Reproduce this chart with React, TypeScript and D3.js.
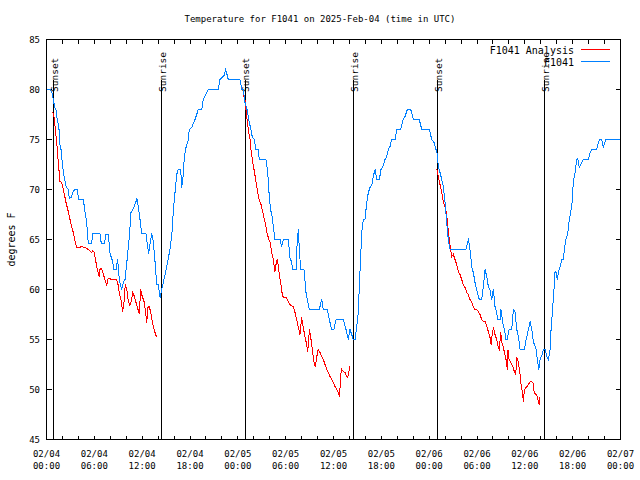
import React from 'react';
import * as d3 from 'd3';

// hours since 2025-02-04 00:00 UTC, temperature in degrees F
const observed: [number, number][] = [
  [0.0, 80], [0.44, 80], [0.65, 79.8], [0.78, 79.3], [0.85, 79], [1.03, 78.2], [1.19, 78], [1.28, 77.3],
  [1.44, 76.7], [1.57, 76], [1.69, 74.5], [1.82, 74], [1.94, 73], [2.03, 72.3], [2.2, 71.3], [2.45, 70.3],
  [2.73, 70], [2.86, 69.1], [3.11, 69.2], [3.29, 69.7], [3.54, 70], [3.86, 70], [4.04, 69], [4.62, 69],
  [4.79, 68], [5.04, 66.7], [5.24, 64.6], [5.67, 64.6], [5.8, 65.6], [6.71, 65.6], [6.87, 64.6], [7.25, 64.6],
  [7.46, 65.5], [7.75, 65.5], [7.97, 63.6], [8.3, 62.8], [8.47, 62], [8.72, 62], [8.93, 63], [9.06, 61.5],
  [9.26, 60.5], [9.43, 60], [9.63, 60.7], [9.85, 61], [10.14, 63.2], [10.39, 65.3], [10.6, 67.7], [10.89, 68.1],
  [11.19, 68.7], [11.35, 69.1], [11.57, 68], [11.73, 67], [11.94, 65.6], [12.48, 65.6], [12.64, 64.5], [12.82, 63.6],
  [12.98, 64.5], [13.2, 65.6], [13.4, 64.8], [13.61, 62.8], [13.82, 60.5], [14.02, 60.5], [14.24, 59.2], [14.45, 60],
  [14.74, 61], [15.08, 62.3], [15.49, 64], [15.78, 66], [15.91, 68], [16.12, 69.7], [16.33, 71.5], [16.53, 72],
  [16.83, 72], [16.96, 70.2], [17.16, 71.5], [17.29, 73.3], [17.5, 74.2], [17.79, 75], [17.91, 76], [18.21, 76.2],
  [18.63, 77], [19.04, 78], [19.47, 78], [19.67, 79], [20.3, 80], [21.55, 80], [21.76, 81], [22.27, 81.4],
  [22.48, 82], [22.8, 81], [24.27, 81], [24.49, 80], [24.69, 80], [24.9, 78.7], [25.19, 77.9], [25.44, 76.7],
  [25.65, 76], [25.82, 75.2], [26.07, 75], [26.28, 74], [26.57, 74], [26.69, 73], [27.53, 73], [27.75, 71.7],
  [27.91, 69.7], [28.04, 68.5], [28.16, 67.8], [28.29, 67.3], [28.45, 66.3], [28.66, 65], [29.29, 65], [29.5, 64.3],
  [29.7, 65], [30.33, 65], [30.54, 63.2], [30.76, 62.7], [30.88, 62], [31.3, 62], [31.46, 65], [31.59, 66],
  [31.71, 64], [31.89, 62], [32.3, 62], [32.55, 59.7], [32.72, 59], [32.97, 58], [34.22, 58], [34.52, 59],
  [34.72, 58], [35.22, 58], [35.47, 57], [35.78, 56], [36.06, 56], [36.32, 57], [37.23, 57], [37.57, 56],
  [37.86, 55], [38.07, 56], [38.28, 55.5], [38.48, 55], [38.7, 55], [38.91, 56.3], [39.11, 57.7], [39.24, 60.3],
  [39.41, 63.3], [39.54, 65.7], [39.74, 67], [39.95, 67], [40.17, 68.7], [40.37, 69.7], [40.58, 70.2], [40.79, 70.4],
  [40.99, 71.3], [41.21, 72], [41.42, 71], [41.75, 71], [41.96, 72], [42.17, 72.2], [42.46, 73], [42.68, 73.3],
  [42.88, 74], [43.09, 74.3], [43.3, 75], [43.72, 75], [43.93, 76], [44.43, 76], [44.68, 76.9], [44.97, 77.3],
  [45.26, 78], [45.69, 78], [46.01, 77], [46.76, 77], [47.07, 76], [48.02, 76], [48.32, 75], [48.61, 74.7],
  [48.86, 74], [49.02, 73.5], [49.15, 72.3], [49.36, 71.7], [49.58, 71], [49.78, 70.3], [49.99, 68.7], [50.2, 66.7],
  [50.4, 65], [50.62, 64], [51.46, 64], [51.87, 64], [52.62, 64], [52.84, 64.7], [52.91, 65.1], [53.04, 64.5],
  [53.22, 63.3], [53.34, 62.2], [53.54, 61.7], [53.75, 60.7], [53.96, 60], [54.17, 59.3], [54.29, 59], [54.59, 59],
  [54.79, 60.3], [55.01, 62], [55.22, 61.3], [55.42, 60.3], [55.63, 60], [55.84, 59], [56.05, 60], [56.26, 58.3],
  [56.47, 57.7], [56.6, 57], [56.89, 57], [57.01, 58], [57.23, 56.7], [57.51, 55.7], [57.64, 55], [57.8, 55],
  [58.02, 56], [58.36, 56], [58.56, 58], [58.78, 57.7], [58.99, 56], [59.19, 55.3], [59.4, 54], [59.94, 54],
  [60.16, 55], [60.45, 56], [60.66, 56.8], [60.87, 56], [61.07, 54.8], [61.41, 54], [61.57, 53], [61.75, 52],
  [61.91, 53], [62.13, 53.4], [62.33, 54], [62.54, 54], [62.75, 53.3], [62.95, 53], [63.17, 54], [63.29, 56],
  [63.45, 57.7], [63.58, 59.2], [63.7, 60.5], [63.79, 61.8], [63.92, 61.7], [64.08, 61], [64.21, 61.7], [64.42, 62.3],
  [64.63, 63], [64.83, 63], [65.04, 64.5], [65.17, 65.1], [65.38, 65.6], [65.58, 67], [65.76, 67.7], [65.92, 68.7],
  [66.08, 70.7], [66.3, 71.7], [66.51, 73], [66.63, 73.1], [66.83, 72.2], [67.14, 72.7], [67.34, 73], [67.96, 73],
  [68.18, 73.7], [68.39, 74], [69.02, 74], [69.22, 74.7], [69.43, 75], [69.65, 75], [69.85, 74.2], [70.15, 75],
  [72.0, 75],
];

const analysisNight1: [number, number][] = [
  [0.78, 77.8], [0.94, 77.3], [1.07, 76.3], [1.28, 74.7], [1.48, 72.7], [1.69, 70.8], [1.91, 70.7], [2.11, 70],
  [2.32, 69.2], [2.45, 68.7], [2.73, 67.8], [2.86, 67.3], [3.16, 66.3], [3.36, 65.7], [3.58, 64.8], [3.79, 64.2],
  [4.11, 64.2], [4.42, 64.3], [4.83, 64.2], [5.24, 64], [5.67, 63.7], [5.8, 63.9], [6.0, 63.7], [6.21, 62.7],
  [6.37, 62], [6.62, 61.3], [6.71, 62], [6.84, 62.1], [7.05, 61.8], [7.21, 61.3], [7.46, 60.7], [7.55, 60.4],
  [7.68, 61], [7.75, 61.1], [8.3, 61], [8.81, 61], [8.97, 60.5], [9.13, 59.7], [9.38, 58.8], [9.56, 57.8],
  [9.72, 58.7], [9.88, 60.5], [10.14, 59.7], [10.26, 58.8], [10.47, 58.4], [10.69, 59], [10.81, 59.7], [10.98, 59.4],
  [11.23, 58.7], [11.48, 58], [11.64, 57.6], [11.82, 60], [11.98, 59.4], [12.23, 58.8], [12.39, 58], [12.57, 56.7],
  [12.73, 58.2], [12.9, 58.3], [13.07, 57.7], [13.23, 57], [13.4, 56.3], [13.61, 55.7], [13.74, 55.3], [13.9, 55.5],
];

const analysisNight2: [number, number][] = [
  [24.69, 79.4], [24.9, 79], [25.11, 77.3], [25.31, 76], [25.53, 75], [25.65, 74], [25.87, 72.7], [26.03, 72],
  [26.24, 71], [26.44, 70], [26.66, 69], [26.91, 68.5], [27.12, 67.8], [27.28, 67.2], [27.5, 66.5], [27.62, 65.8],
  [27.82, 65.2], [28.04, 64.7], [28.25, 63.7], [28.45, 63], [28.66, 61.8], [28.79, 62.5], [28.95, 63], [29.08, 62.3],
  [29.2, 61.5], [29.38, 60.7], [29.54, 59.7], [29.7, 59.2], [30.04, 59.2], [30.33, 58.8], [30.63, 58.4], [30.96, 58.3],
  [31.17, 57.7], [31.38, 57], [31.59, 56.2], [31.8, 55.5], [32.01, 57.2], [32.14, 56.5], [32.3, 55.8], [32.55, 54.8],
  [32.77, 53.8], [32.89, 55], [32.97, 56], [33.18, 55], [33.39, 53.7], [33.56, 52.7], [33.72, 52.3], [33.89, 53.2],
  [34.06, 54], [34.31, 53.7], [34.52, 53.3], [34.72, 53], [34.94, 52.5], [35.15, 52], [35.35, 51.7], [35.56, 51.3],
  [35.78, 51], [35.98, 50.7], [36.19, 50.3], [36.4, 50], [36.6, 49.7], [36.73, 49.3], [36.82, 50.2], [36.9, 51.5],
  [37.03, 52], [37.23, 51.8], [37.45, 51.7], [37.66, 51.3], [37.78, 51.2], [37.91, 51.7], [38.03, 52.3],
];

const analysisNight3: [number, number][] = [
  [48.95, 72.1], [49.15, 71.3], [49.36, 70.5], [49.58, 69.7], [49.78, 68.7], [49.99, 68.3], [50.2, 67.5], [50.4, 65.8],
  [50.53, 65], [50.7, 64], [50.83, 63.3], [51.03, 63.5], [51.24, 63], [51.46, 62.5], [51.66, 61.8], [51.87, 61.5],
  [52.08, 61], [52.28, 60.5], [52.5, 60.2], [52.71, 59.7], [52.91, 59.5], [53.12, 59], [53.34, 58.7], [53.54, 58.3],
  [53.75, 58], [53.96, 58], [54.17, 57.8], [54.38, 57.5], [54.59, 57], [54.79, 56.8], [55.01, 56.8], [55.22, 56.3],
  [55.42, 55.8], [55.63, 55.2], [55.76, 54.5], [55.88, 55.3], [56.05, 56.2], [56.26, 55.5], [56.47, 55], [56.68, 54.2],
  [56.8, 54], [56.98, 55.7], [57.1, 54.8], [57.3, 54.2], [57.51, 53.5], [57.64, 53], [57.8, 52], [57.89, 53.9],
  [58.02, 53], [58.23, 52.7], [58.48, 52.3], [58.68, 51.8], [58.86, 51.5], [58.99, 53.2], [59.19, 52.7], [59.4, 51.5],
  [59.53, 50.5], [59.69, 49.8], [59.82, 48.8], [59.94, 50], [60.16, 50.2], [60.37, 50.4], [60.59, 50.7], [60.8, 50.8],
  [61.02, 50.7], [61.18, 49.7], [61.41, 49.5], [61.57, 49.3], [61.7, 48.8], [61.82, 48.5], [61.91, 49.3],
];

const sunsetHours = [0.88, 24.96, 49.05];
const sunriseHours = [14.45, 38.51, 62.47];

const xLabelHours = [0, 6, 12, 18, 24, 30, 36, 42, 48, 54, 60, 66, 72];
const xLabelDates = ['02/04', '02/04', '02/04', '02/04', '02/05', '02/05', '02/05', '02/05', '02/06', '02/06', '02/06', '02/06', '02/07'];
const xLabelTimes = ['00:00', '06:00', '12:00', '18:00', '00:00', '06:00', '12:00', '18:00', '00:00', '06:00', '12:00', '18:00', '00:00'];
const xTickHours = d3.range(0, 73, 2);
const yTicks = [45, 50, 55, 60, 65, 70, 75, 80, 85];

const titleText = 'Temperature for F1041 on 2025-Feb-04 (time in UTC)';
const legendNames = ['F1041 Analysis', 'F1041'];
const RED = '#ff0000';
const BLUE = '#0080ff';

export default function App() {
  const L = 46.5, R = 620.5, T = 39.5, B = 439.5;
  const x = d3.scaleLinear().domain([0, 72]).range([L, R]);
  const y = d3.scaleLinear().domain([45, 85]).range([B, T]);
  const line = d3.line<[number, number]>().x(d => x(d[0])).y(d => y(d[1]));
  const font = "'DejaVu Sans Mono', monospace";
  const fs = 9;

  return (
    <svg width={640} height={480} style={{ position: 'absolute', left: 0, top: 0, background: '#fff' }}
      fontFamily={font} fontSize={fs}>
      <rect x={0} y={0} width={640} height={480} fill="#fff" />
      <text x={320} y={19} textAnchor="middle" dominantBaseline="central">{titleText}</text>

      {/* ticks */}
      <g stroke="#000" strokeWidth={1} shapeRendering="crispEdges">
        {xTickHours.map(h => (
          <g key={'xt' + h}>
            <line x1={x(h)} x2={x(h)} y1={B} y2={B - 4} />
            <line x1={x(h)} x2={x(h)} y1={T} y2={T + 4} />
          </g>
        ))}
        {yTicks.map(v => (
          <g key={'yt' + v}>
            <line x1={L} x2={L + 5} y1={y(v)} y2={y(v)} />
            <line x1={R} x2={R - 5} y1={y(v)} y2={y(v)} />
          </g>
        ))}
      </g>

      {/* tick labels */}
      {yTicks.map(v => (
        <text key={'yl' + v} x={40} y={y(v)} textAnchor="end" dominantBaseline="central">{v}</text>
      ))}
      {xLabelHours.map((h, i) => (
        <g key={'xl' + h}>
          <text x={x(h)} y={454} textAnchor="middle" dominantBaseline="central">{xLabelDates[i]}</text>
          <text x={x(h)} y={466} textAnchor="middle" dominantBaseline="central">{xLabelTimes[i]}</text>
        </g>
      ))}
      <text transform={`translate(11,${(T + B) / 2}) rotate(-90)`} textAnchor="middle" dominantBaseline="central" fontSize={10}>degrees F</text>

      {/* sunrise / sunset markers */}
      <g stroke="#000" strokeWidth={1} shapeRendering="crispEdges">
        {sunsetHours.concat(sunriseHours).map(h => (
          <line key={'v' + h} x1={x(h)} x2={x(h)} y1={y(81)} y2={B} />
        ))}
      </g>
      {sunsetHours.map(h => (
        <text key={'ss' + h} transform={`translate(${x(h) + 0.5},92) rotate(-90)`} dominantBaseline="central" fontSize={9.5}>Sunset</text>
      ))}
      {sunriseHours.map(h => (
        <text key={'sr' + h} transform={`translate(${x(h) + 0.5},92) rotate(-90)`} dominantBaseline="central" fontSize={9.5}>Sunrise</text>
      ))}

      {/* series */}
      <g fill="none" strokeWidth={1} shapeRendering="crispEdges">
        {[analysisNight1, analysisNight2, analysisNight3].map((seg, i) => (
          <path key={'a' + i} d={line(seg) || ''} stroke={RED} />
        ))}
        <path d={line(observed) || ''} stroke={BLUE} />
      </g>

      {/* legend */}
      <text x={574} y={50} textAnchor="end" dominantBaseline="central" fontSize={10}>{legendNames[0]}</text>
      <rect x={581} y={49} width={29} height={1} fill={RED} />
      <text x={574} y={62} textAnchor="end" dominantBaseline="central" fontSize={10}>{legendNames[1]}</text>
      <rect x={581} y={61} width={29} height={1} fill={BLUE} />

      {/* frame */}
      <rect x={L} y={T} width={R - L} height={B - T} fill="none" stroke="#000" strokeWidth={1} shapeRendering="crispEdges" />
    </svg>
  );
}
